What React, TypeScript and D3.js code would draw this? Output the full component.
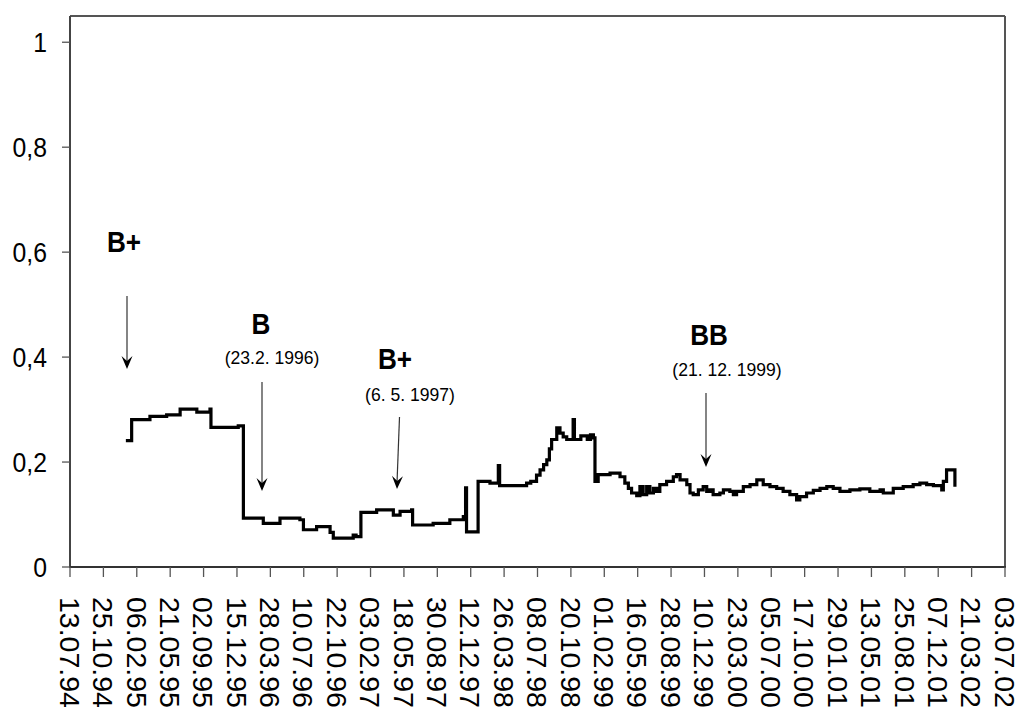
import React from "react";
import * as d3 from "d3";

// Tick labels of the category/date axis (every 104 days)
const tickLabels = [
  "13.07.94", "25.10.94", "06.02.95", "21.05.95", "02.09.95", "15.12.95",
  "28.03.96", "10.07.96", "22.10.96", "03.02.97", "18.05.97", "30.08.97",
  "12.12.97", "26.03.98", "08.07.98", "20.10.98", "01.02.99", "16.05.99",
  "28.08.99", "10.12.99", "23.03.00", "05.07.00", "17.10.00", "29.01.01",
  "13.05.01", "25.08.01", "07.12.01", "21.03.02", "03.07.02",
];

const yTicks = [0, 0.2, 0.4, 0.6, 0.8, 1];

// Series (step-like time series)
const dates = [
  "1995-01-03", "1995-01-21", "1995-03-19", "1995-05-10", "1995-06-21", "1995-08-12",
  "1995-09-22", "1995-09-25", "1995-12-19", "1996-01-04", "1996-03-06", "1996-04-27",
  "1996-06-28", "1996-07-09", "1996-08-19", "1996-09-30", "1996-10-10", "1996-12-11",
  "1996-12-20", "1997-01-04", "1997-02-22", "1997-04-15", "1997-05-06", "1997-06-11",
  "1997-06-14", "1997-08-17", "1997-10-08", "1997-11-19", "1997-11-26", "1997-11-29",
  "1998-01-04", "1998-02-10", "1998-03-08", "1998-03-12", "1998-06-04", "1998-06-17",
  "1998-07-05", "1998-07-16", "1998-07-27", "1998-08-06", "1998-08-14", "1998-08-21",
  "1998-09-06", "1998-09-16", "1998-09-26", "1998-10-07", "1998-10-27", "1998-10-31",
  "1998-11-20", "1998-12-10", "1998-12-20", "1998-12-29", "1999-01-03", "1999-01-13",
  "1999-02-19", "1999-03-22", "1999-04-06", "1999-04-17", "1999-04-27", "1999-05-13",
  "1999-05-23", "1999-06-02", "1999-06-13", "1999-06-23", "1999-07-04", "1999-07-14",
  "1999-07-24", "1999-08-14", "1999-09-04", "1999-09-14", "1999-09-25", "1999-10-16",
  "1999-10-26", "1999-11-05", "1999-11-21", "1999-12-06", "1999-12-17", "1999-12-27",
  "2000-01-06", "2000-01-27", "2000-02-07", "2000-02-27", "2000-03-09", "2000-03-19",
  "2000-04-09", "2000-04-30", "2000-05-21", "2000-06-10", "2000-07-01", "2000-07-22",
  "2000-08-11", "2000-09-01", "2000-09-22", "2000-10-02", "2000-10-23", "2000-11-13",
  "2000-12-04", "2000-12-25", "2001-01-14", "2001-02-04", "2001-03-07", "2001-04-07",
  "2001-05-08", "2001-06-09", "2001-06-19", "2001-07-20", "2001-08-20", "2001-09-20",
  "2001-10-11", "2001-11-01", "2001-11-22", "2001-12-18", "2001-12-23", "2002-01-02",
  "2002-01-28",
];
const values = [
  0.241, 0.281, 0.287, 0.290, 0.301, 0.295,
  0.301, 0.266, 0.269, 0.093, 0.083, 0.093,
  0.090, 0.071, 0.077, 0.066, 0.055, 0.061,
  0.058, 0.104, 0.109, 0.099, 0.106, 0.109,
  0.080, 0.083, 0.090, 0.096, 0.151, 0.067,
  0.163, 0.160, 0.193, 0.155, 0.160, 0.163,
  0.175, 0.185, 0.195, 0.204, 0.225, 0.243,
  0.265, 0.255, 0.248, 0.243, 0.281, 0.243,
  0.250, 0.243, 0.252, 0.246, 0.163, 0.176,
  0.179, 0.172, 0.160, 0.150, 0.141, 0.136,
  0.153, 0.138, 0.153, 0.141, 0.150, 0.144,
  0.157, 0.163, 0.172, 0.176, 0.166, 0.157,
  0.141, 0.138, 0.147, 0.153, 0.144, 0.147,
  0.138, 0.141, 0.147, 0.144, 0.138, 0.144,
  0.153, 0.157, 0.166, 0.157, 0.153, 0.150,
  0.144, 0.138, 0.128, 0.134, 0.141, 0.146,
  0.150, 0.153, 0.150, 0.144, 0.147, 0.149,
  0.144, 0.147, 0.141, 0.150, 0.153, 0.157,
  0.160, 0.157, 0.155, 0.147, 0.163, 0.185,
  0.153,
];

// Rating annotations
const annLabels = ["B+", "B", "B+", "BB"];
const annDates = ["", "(23.2. 1996)", "(6. 5. 1997)", "(21. 12. 1999)"];

const W = 1021;
const H = 715;
const FONT = "'Liberation Sans', Arial, Helvetica, sans-serif";

function parseLabel(s: string): Date {
  const [dd, mm, yy] = s.split(".").map(Number);
  return new Date(Date.UTC(1900 + (yy < 50 ? 100 + yy : yy), mm - 1, dd));
}

export default function App() {
  const left = 70, right = 1005, top = 16, bottom = 567;
  const tickDates = tickLabels.map(parseLabel);
  const x = d3.scaleUtc()
    .domain([tickDates[0], tickDates[tickDates.length - 1]])
    .range([left, right]);
  const y = d3.scaleLinear().domain([0, 1.05]).range([bottom, top]);

  const data = dates.map((d, i) => ({ date: new Date(d + "T00:00:00Z"), v: values[i] }));
  const line = d3.line<{ date: Date; v: number }>()
    .x((d) => x(d.date))
    .y((d) => y(d.v))
    .curve(d3.curveStepAfter);

  const fmt = (v: number) => (v === 0 ? "0" : String(v).replace(".", ","));

  // annotation layout (positions only)
  const ann = [
    { lx: 124, ly: 252, dx: 0, dy: 0, ax1: 127, ay1: 296, ax2: 127, ay2: 369 },
    { lx: 261, ly: 334, dx: 272, dy: 364, ax1: 262, ay1: 382, ax2: 262, ay2: 491 },
    { lx: 395, ly: 369, dx: 410, dy: 401, ax1: 399.5, ay1: 417, ax2: 397, ay2: 489 },
    { lx: 709, ly: 345, dx: 727, dy: 376, ax1: 706, ay1: 393, ax2: 706, ay2: 467 },
  ];

  const arrowHead = (x1: number, y1: number, x2: number, y2: number) => {
    const ang = Math.atan2(y2 - y1, x2 - x1);
    const L = 13, Wd = 5.5, N = 8;
    const ux = Math.cos(ang), uy = Math.sin(ang);
    const px = -uy, py = ux;
    const bx = x2 - ux * L, by = y2 - uy * L;
    const nx = x2 - ux * N, ny = y2 - uy * N;
    return `M${x2},${y2}L${bx + px * Wd},${by + py * Wd}L${nx},${ny}L${bx - px * Wd},${by - py * Wd}Z`;
  };

  return (
    <svg width={W} height={H} style={{ position: "absolute", left: 0, top: 0, background: "#fff" }}>
      {/* frame */}
      <line x1={left} y1={top} x2={right} y2={top} stroke="#555" strokeWidth={2} />
      <line x1={right} y1={top} x2={right} y2={bottom} stroke="#555" strokeWidth={2} />
      <line x1={left} y1={top} x2={left} y2={bottom} stroke="#444" strokeWidth={2} />
      <line x1={left - 1} y1={bottom} x2={right + 1} y2={bottom} stroke="#333" strokeWidth={2} />

      {/* y axis */}
      {yTicks.map((t) => (
        <g key={"y" + t}>
          <line x1={left - 8} x2={left} y1={y(t)} y2={y(t)} stroke="#555" strokeWidth={1.3} />
          <text
            transform={`translate(47,${y(t)}) scale(0.9,1)`}
            dy="0.36em"
            textAnchor="end"
            fontFamily={FONT}
            fontSize={27.5}
            fill="#000"
          >
            {fmt(t)}
          </text>
        </g>
      ))}

      {/* x axis */}
      {tickDates.map((d, i) => (
        <g key={"x" + i}>
          <line x1={x(d)} x2={x(d)} y1={bottom} y2={bottom + 10} stroke="#555" strokeWidth={1.3} />
          <text
            transform={`translate(${x(d)},597) rotate(90)`}
            dy="0.36em"
            textAnchor="start"
            fontFamily={FONT}
            fontSize={28.5}
            fill="#000"
          >
            {tickLabels[i]}
          </text>
        </g>
      ))}

      {/* series */}
      <path d={line(data) || ""} fill="none" stroke="#000" strokeWidth={3.2} strokeLinejoin="miter" />

      {/* annotations */}
      {ann.map((a, i) => (
        <g key={"a" + i}>
          <text
            transform={`translate(${a.lx},${a.ly}) scale(0.87,1)`}
            textAnchor="middle"
            fontFamily={FONT}
            fontWeight="bold"
            fontSize={30}
            fill="#000"
          >
            {annLabels[i]}
          </text>
          {annDates[i] && (
            <text
              transform={`translate(${a.dx},${a.dy}) scale(0.95,1)`}
              textAnchor="middle"
              fontFamily={FONT}
              fontSize={18.5}
              fill="#000"
            >
              {annDates[i]}
            </text>
          )}
          <line x1={a.ax1} y1={a.ay1} x2={a.ax2} y2={a.ay2 - 6} stroke="#333" strokeWidth={1.2} />
          <path d={arrowHead(a.ax1, a.ay1, a.ax2, a.ay2)} fill="#000" />
        </g>
      ))}
    </svg>
  );
}
